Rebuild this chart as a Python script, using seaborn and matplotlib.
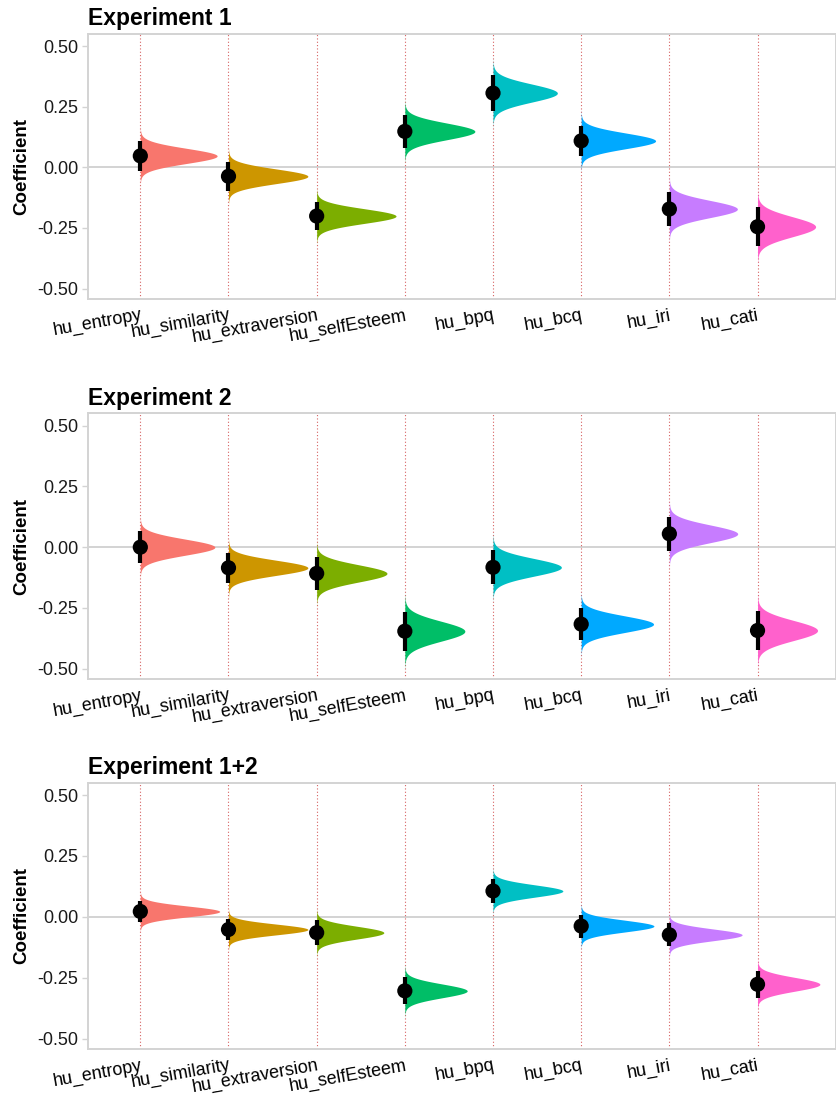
import numpy as np
import pandas as pd
import matplotlib
matplotlib.use("Agg")
import matplotlib.pyplot as plt
import seaborn as sns

terms = ["hu_entropy", "hu_similarity", "hu_extraversion", "hu_selfEsteem",
         "hu_bpq", "hu_bcq", "hu_iri", "hu_cati"]
colors = ["#F8766D", "#CD9600", "#7CAE00", "#00BE67",
          "#00BFC4", "#00A9FF", "#C77CFF", "#FF61CC"]
panels = ["Experiment 1", "Experiment 2", "Experiment 1+2"]

# estimated coefficients and their standard errors
est_exp1 = [0.047, -0.037, -0.201, 0.148, 0.306, 0.109, -0.172, -0.245]
se_exp1 = [0.031, 0.030, 0.030, 0.034, 0.037, 0.032, 0.035, 0.041]
est_exp2 = [0.000, -0.085, -0.108, -0.346, -0.083, -0.317, 0.055, -0.343]
se_exp2 = [0.033, 0.031, 0.035, 0.041, 0.036, 0.034, 0.036, 0.041]
est_both = [0.022, -0.052, -0.065, -0.304, 0.106, -0.038, -0.074, -0.277]
se_both = [0.022, 0.022, 0.026, 0.028, 0.025, 0.024, 0.024, 0.028]

df = pd.DataFrame({
    "panel": np.repeat(panels, len(terms)),
    "term": terms * 3,
    "pos": list(range(len(terms))) * 3,
    "estimate": est_exp1 + est_exp2 + est_both,
    "se": se_exp1 + se_exp2 + se_both,
})

sns.set_theme(style="white")
plt.rcParams["font.family"] = ["Liberation Sans", "DejaVu Sans"]

fig = plt.figure(figsize=(8.36, 10.99), dpi=100)
boxes = [[0.1053, 0.7277, 0.8947, 0.2417],
         [0.1053, 0.3819, 0.8947, 0.2420],
         [0.1053, 0.0452, 0.8947, 0.2427]]

grey = "#d3d3d3"
for box, name in zip(boxes, panels):
    ax = fig.add_axes(box)
    sub = df[df["panel"] == name]
    sd_min = sub["se"].min()

    for p in sub["pos"]:
        ax.axvline(p, color="#cc3b3b", lw=0.8, ls=(0, (1, 2)), alpha=0.8, zorder=1)
    ax.axhline(0, color=grey, lw=1.4, zorder=0.5)

    # half-eye slabs: normal density of each estimate, scaled within panel
    for _, r in sub.iterrows():
        yy = np.linspace(r["estimate"] - 4 * r["se"], r["estimate"] + 4 * r["se"], 300)
        w = 0.9 * (sd_min / r["se"]) * np.exp(-0.5 * ((yy - r["estimate"]) / r["se"]) ** 2)
        ax.fill_betweenx(yy, r["pos"], r["pos"] + w, color=colors[r["pos"]],
                         lw=0, zorder=2)

    ax.vlines(sub["pos"], sub["estimate"] - 1.96 * sub["se"],
              sub["estimate"] + 1.96 * sub["se"], color="black", lw=3, zorder=3)
    sns.scatterplot(data=sub, x="pos", y="estimate", color="black", s=120,
                    edgecolor="none", ax=ax, zorder=4, legend=False)

    ax.set_xlim(-0.593, 7.89)
    ax.set_ylim(-0.544, 0.551)
    ax.set_yticks([-0.5, -0.25, 0, 0.25, 0.5])
    ax.set_yticklabels(["-0.50", "-0.25", "0.00", "0.25", "0.50"])
    ax.set_xticks(range(len(terms)))
    ax.set_xticklabels(terms, rotation=10, ha="right", va="top",
                       rotation_mode="anchor")
    ax.tick_params(axis="x", length=0, pad=5.5, labelsize=13, labelcolor="black")
    ax.tick_params(axis="y", length=4, width=1, color=grey, pad=3,
                   labelsize=13, labelcolor="#1a1a1a", left=True)
    for s in ax.spines.values():
        s.set_color(grey)
        s.set_linewidth(1.4)
    ax.set_xlabel("")
    ax.set_ylabel("Coefficient", fontsize=13.5, fontweight="bold", labelpad=5,
                  color="black")
    ax.set_title(name, loc="left", fontsize=16.5, fontweight="bold", pad=6,
                 x=0.0, color="black")

fig.savefig("out.png", dpi=100)
